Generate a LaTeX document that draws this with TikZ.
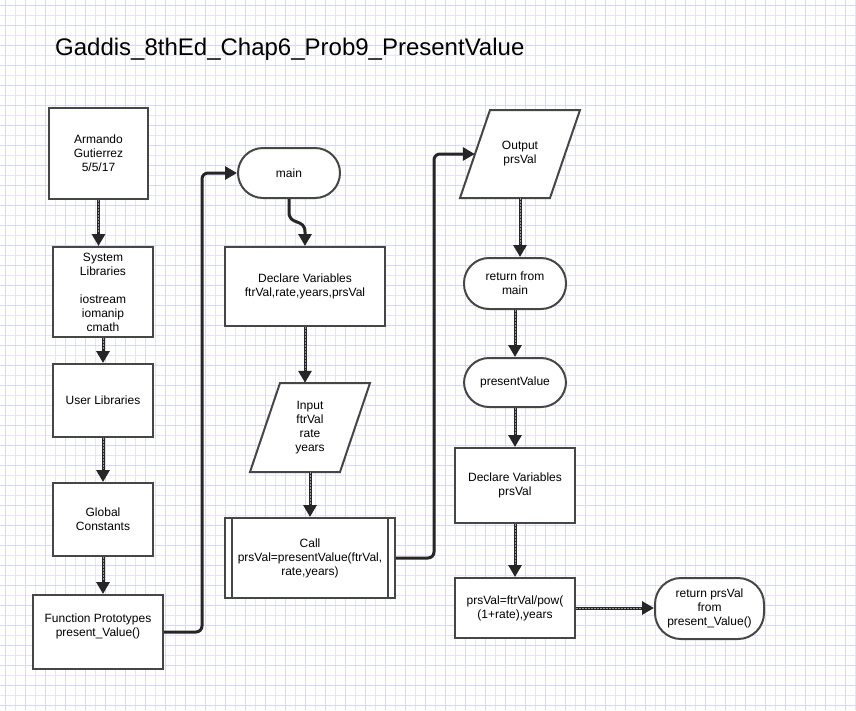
\documentclass[tikz,border=0pt]{standalone}
\usepackage{fontspec}
\setmainfont{Liberation Sans}
\usetikzlibrary{arrows.meta,calc}
\definecolor{gridA}{RGB}{214,214,255}
\definecolor{gridB}{RGB}{228,228,255}
\definecolor{edgec}{RGB}{70,70,70}
\newcommand\nf{\fontsize{12}{14}\selectfont}
\begin{document}
\begin{tikzpicture}[x=1pt,y=-1pt,
  box/.style={draw=edgec, line width=2pt, fill=white, align=center, font=\nf, inner sep=2pt, rectangle},
  term/.style={box, rounded corners=#1},
  term/.default=25pt,
  txt/.style={align=center, font=\nf, inner sep=0pt},
  shp/.style={draw=edgec, line width=2pt, fill=white, line join=miter},
  conn/.style={draw=black!85, line width=3pt, -{Triangle[width=13pt,length=12pt]}},
  dots/.style={conn, postaction={draw=black!40, line width=1pt, dash pattern=on 1.5pt off 1.5pt, -, shorten >=13pt}},
  gridlineA/.style={draw=gridA, line width=1pt},
  gridlineB/.style={draw=gridB, line width=1pt},
]
\fill[white] (0,0) rectangle (856,710);
\useasboundingbox (0,0) rectangle (856,710);
% grid
\foreach \i in {0,...,42} {
  \draw[gridlineB] (15+20*\i,0) -- (15+20*\i,710);
}
\foreach \i in {0,...,35} {
  \draw[gridlineB] (0,15+20*\i) -- (856,15+20*\i);
}
\foreach \i in {0,...,42} {
  \draw[gridlineA] (5+20*\i,0) -- (5+20*\i,710);
}
\foreach \i in {0,...,35} {
  \draw[gridlineA] (0,5+20*\i) -- (856,5+20*\i);
}

% title
\node[anchor=base west, font=\fontsize{24}{28}\selectfont, inner sep=0pt] (title) at (55,55) {Gaddis\_8thEd\_Chap6\_Prob9\_PresentValue};

% left column
\node[box, minimum width=99, minimum height=91] (arm) at (98.5,153.5) {Armando\\Gutierrez\\5/5/17};
\node[box, minimum width=100, minimum height=90] (sys) at (103,292) {System\\Libraries\\[14pt]iostream\\iomanip\\cmath};
\node[box, minimum width=100, minimum height=73] (user) at (103,400.5) {User Libraries};
\node[box, minimum width=100, minimum height=73] (glob) at (103,519.5) {Global\\Constants};
\node[box, minimum width=130, minimum height=74] (proto) at (98,632) {Function Prototypes\\present\_Value()\\\mbox{}};

% middle column
\node[term, minimum width=102, minimum height=50] (main) at (289,173) {main};
\node[box, minimum width=160, minimum height=79] (decl1) at (305,286.5) {Declare Variables\\ftrVal,rate,years,prsVal};
\draw[shp] (250,472) -- (280,383) -- (370,383) -- (340,472) -- cycle;
\node[txt, minimum width=90, minimum height=89] (input) at (310,427.5) {Input\\ftrVal\\rate\\years};
\node[box, minimum width=170, minimum height=80] (call) at (310,558) {Call\\prsVal=presentValue(ftrVal,\\rate,years)};
\draw[shp] ([xshift=8pt]call.north west) -- ([xshift=8pt]call.south west);
\draw[shp] ([xshift=-8pt]call.north east) -- ([xshift=-8pt]call.south east);

% right column
\draw[shp] (460,198) -- (490,110) -- (580,110) -- (550,198) -- cycle;
\node[txt, minimum width=90, minimum height=88] (output) at (520,154) {Output\\prsVal};
\node[term, minimum width=102, minimum height=51] (retm) at (515,283.5) {return from\\main};
\node[term, minimum width=102, minimum height=49] (pv) at (515,382.5) {presentValue};
\node[box, minimum width=120, minimum height=75] (decl2) at (515,485.5) {Declare Variables\\prsVal};
\node[box, minimum width=120, minimum height=60] (calc) at (515,608) {prsVal=ftrVal/pow(\\(1+rate),years};
\node[term=26pt, minimum width=109, minimum height=61] (retp) at (709.5,608.5) {return prsVal\\from\\present\_Value()};

% connectors
\draw[dots] (arm.south) -- (arm.south |- sys.north);
\draw[dots] (sys.south) -- (user.north);
\draw[dots] (user.south) -- (glob.north);
\draw[dots] (glob.south) -- (glob.south |- proto.north);
\draw[conn, rounded corners=6pt] (proto.east) -- ++(38,0) |- (main.west);
\draw[conn] (main.south) -- (289,212) .. controls (289,226) and (305,218) .. (305,232) -- (decl1.north);
\draw[dots] (decl1.south) -- (decl1.south |- input.north);
\draw[dots] (input.south) -- (call.north);
\draw[conn, rounded corners=6pt] (call.east) -- ++(38,0) |- (output.west);
\draw[dots] (output.south) -- (output.south |- retm.north);
\draw[dots] (retm.south) -- (pv.north);
\draw[dots] (pv.south) -- (decl2.north);
\draw[dots] (decl2.south) -- (calc.north);
\draw[dots] (calc.east) -- (calc.east -| retp.west);
\end{tikzpicture}
\end{document}
